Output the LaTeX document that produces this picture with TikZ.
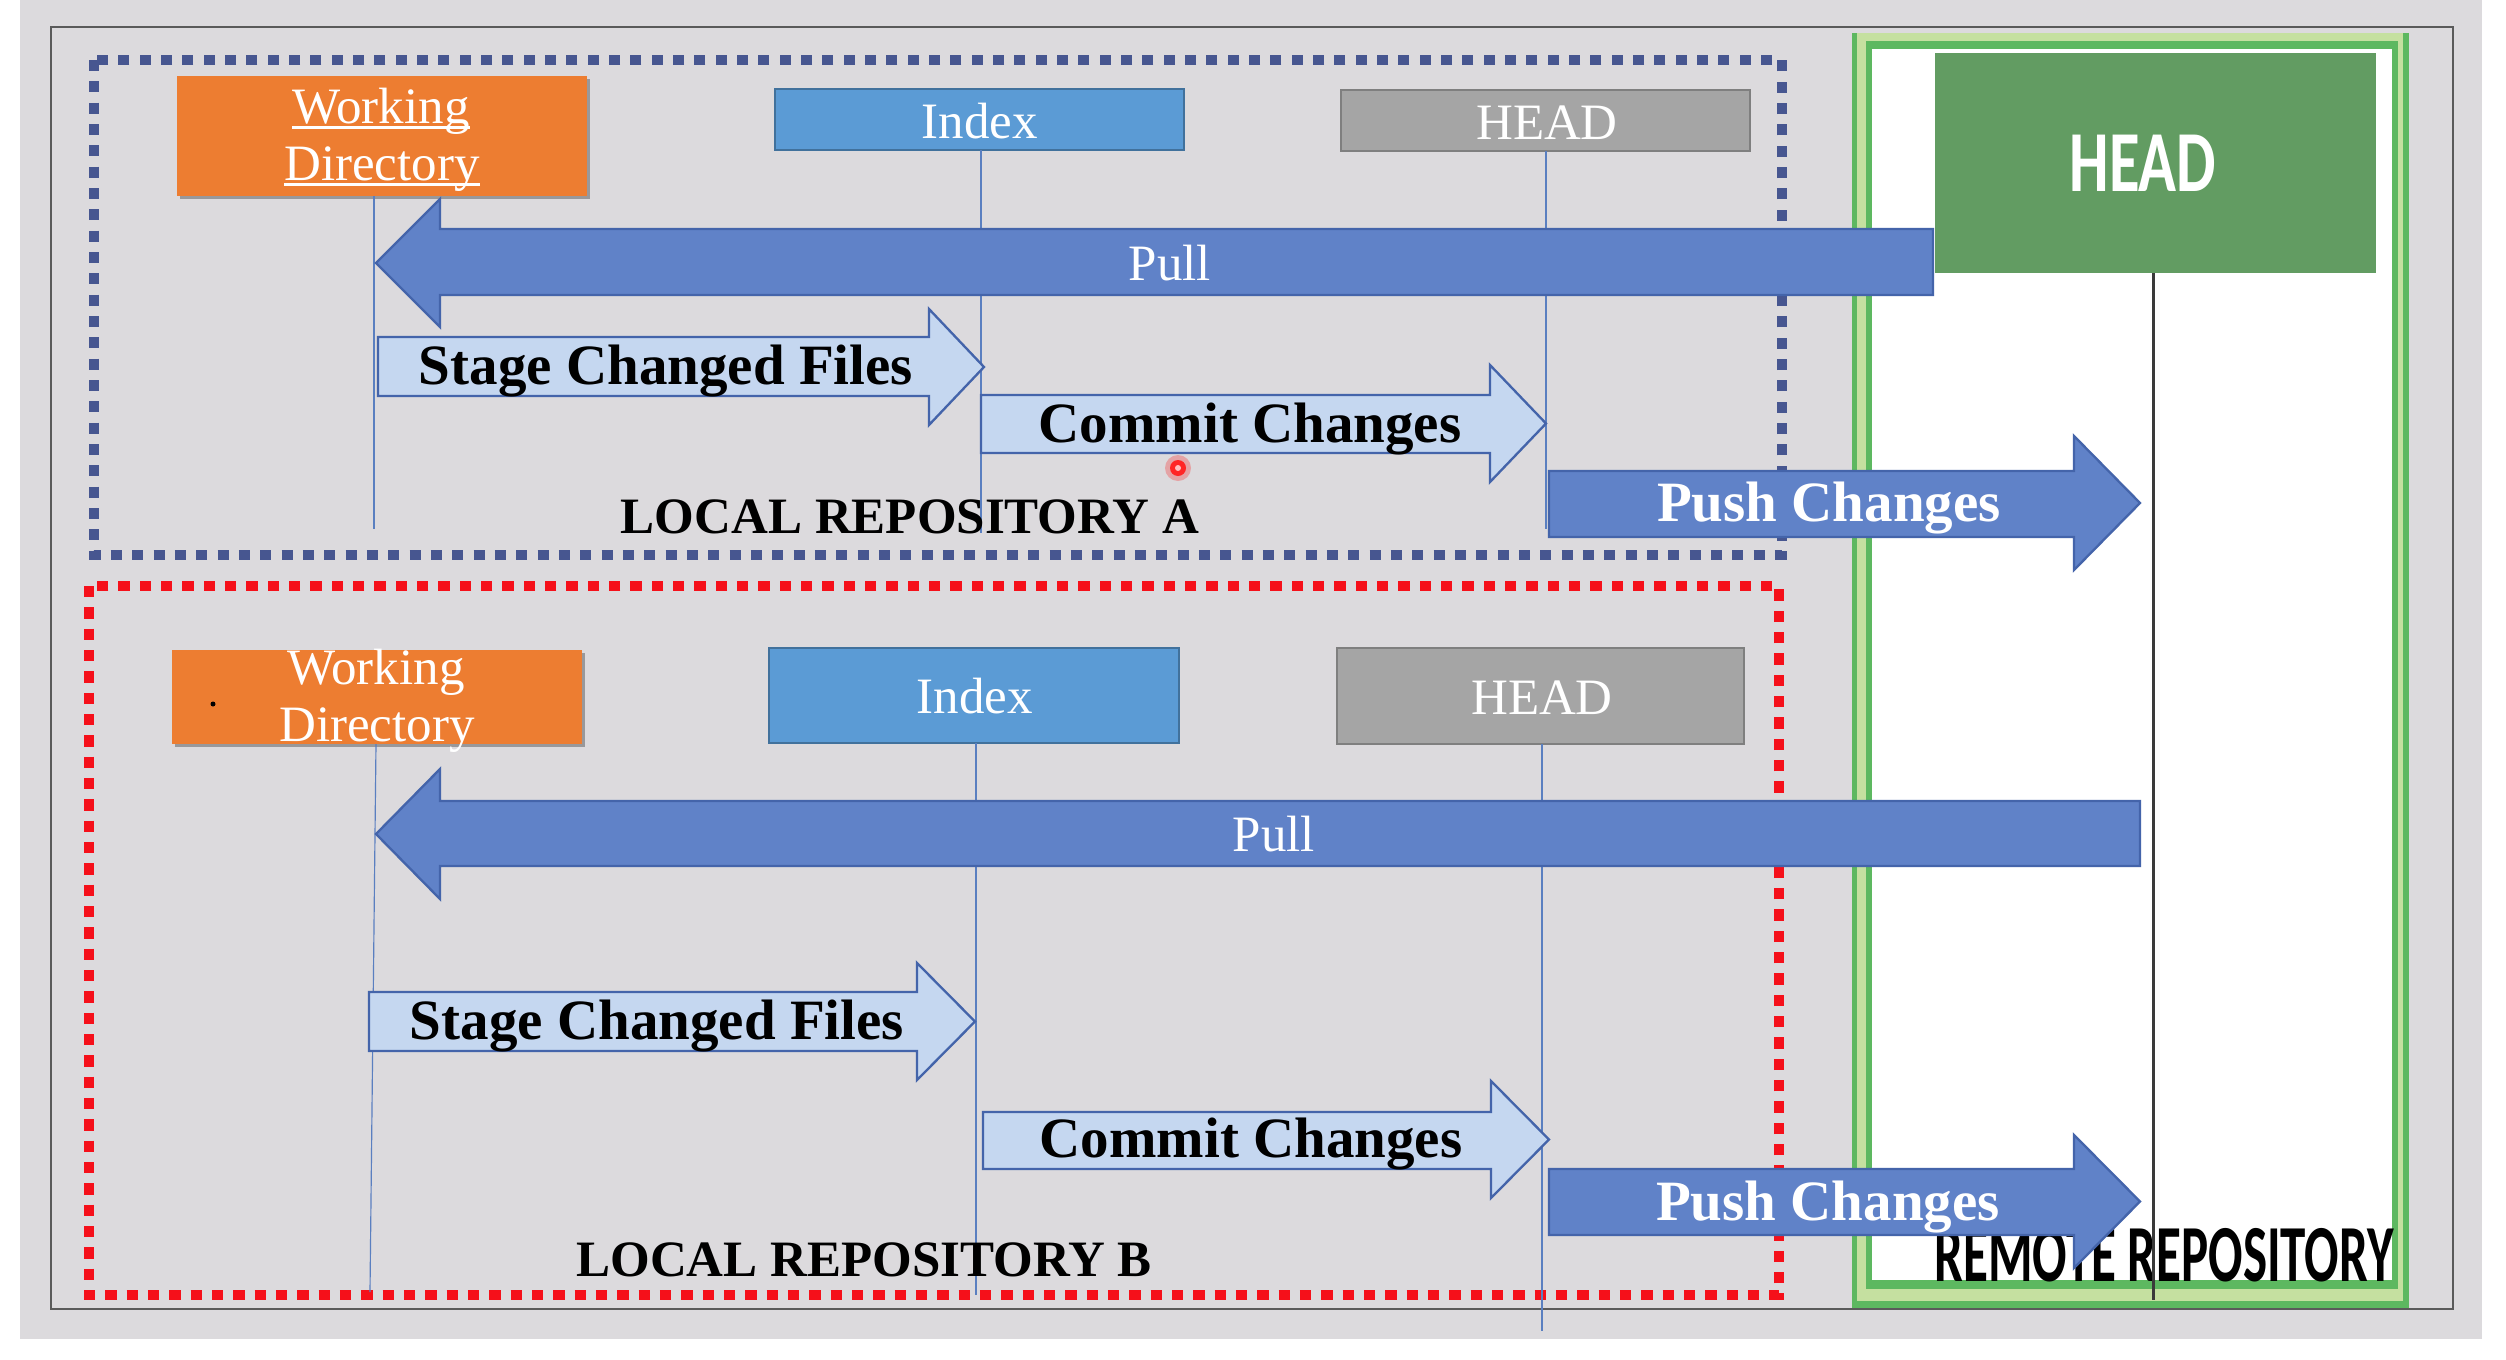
\documentclass[tikz,border=0pt]{standalone}
\usepackage{fontspec}
\setmainfont{Liberation Serif}
\newfontfamily\calibfont{Carlito}
\usetikzlibrary{shadows}
\definecolor{bggray}{HTML}{DCDADD}
\definecolor{framegray}{HTML}{5A5A5A}
\definecolor{wdorange}{HTML}{ED7D31}
\definecolor{ixblue}{HTML}{5B9BD5}
\definecolor{ixborder}{HTML}{41719C}
\definecolor{hdgray}{HTML}{A5A5A5}
\definecolor{hdborder}{HTML}{7F7F7F}
\definecolor{darkfill}{HTML}{6082C8}
\definecolor{arrborder}{HTML}{4464AA}
\definecolor{lightfill}{HTML}{C5D7F0}
\definecolor{lineblue}{HTML}{5A7FC0}
\definecolor{dotblue}{HTML}{475690}
\definecolor{dotred}{HTML}{F5101A}
\definecolor{grnband}{HTML}{5DB860}
\definecolor{grnlight}{HTML}{C5E0A0}
\definecolor{grnhead}{HTML}{629C62}
\definecolor{remline}{HTML}{3A3A3A}
\newcommand\blockarr[8]{\path[#1] (#2,#5) -- (#3,#5) -- (#3,#7) -- (#4,{(#7+#8)/2}) -- (#3,#8) -- (#3,#6) -- (#2,#6) -- cycle;}
\newcommand\myul[1]{\setbox0\hbox{#1}\rlap{\rule[-0.12em]{\wd0}{0.055em}}\box0}
\begin{document}
\begin{tikzpicture}[x=0.3pt,y=-0.3pt,
  reg/.style={font=\fontsize{15.3}{18}\selectfont, inner sep=0pt, anchor=base, text=white},
  bld/.style={font=\bfseries\fontsize{17.1}{20}\selectfont, inner sep=0pt, anchor=base},
  loc/.style={font=\bfseries\fontsize{15.3}{18}\selectfont, inner sep=0pt, anchor=base},
  wdbox/.style={fill=wdorange, inner sep=0pt, draw=none,
    drop shadow={shadow xshift=0.8pt, shadow yshift=-0.9pt, opacity=0.3, fill=black}},
  ixbox/.style={fill=ixblue, draw=ixborder, line width=0.6pt, inner sep=0pt},
  hdbox/.style={fill=hdgray, draw=hdborder, line width=0.6pt, inner sep=0pt},
  vline/.style={draw=lineblue, line width=0.35pt},
  darkarr/.style={fill=darkfill, draw=arrborder, line width=0.7pt},
  lightarr/.style={fill=lightfill, draw=arrborder, line width=0.7pt},
  dotA/.style={draw=dotblue, line width=3pt, dash pattern=on 3.3pt off 3.1pt},
  dotB/.style={draw=dotred, line width=3pt, dash pattern=on 3.4pt off 3.0pt}]
% background and frame
\fill[white] (0,0) rectangle (2506,1360);
\useasboundingbox (0,0) rectangle (2506,1360);
\fill[bggray] (20,0) rectangle (2482,1339);
\draw[framegray, line width=0.6pt] (51,27) rectangle (2453,1309);
% remote repository frame
\fill[grnband] (1852,33) rectangle (2409,1308);
\fill[grnlight] (1857,33) rectangle (2403,1301);
\fill[grnband] (1866,41) rectangle (2398,1289);
\fill[white] (1872,49) rectangle (2392,1280);
\node[fill=grnhead, inner sep=0pt, minimum width=132.3pt, minimum height=66pt] (rhead) at (2155.5,163) {};
\node[font=\calibfont\bfseries\fontsize{26.1}{30}\selectfont, text=white, inner sep=0pt, anchor=base] (rheadt) at (2143,191) {\scalebox{0.72}[1]{HEAD}};
\node[font=\calibfont\bfseries\fontsize{24.3}{28}\selectfont, text=black, inner sep=0pt, anchor=base] (remt) at (2164,1281) {\scalebox{0.63}[1]{REMOTE REPOSITORY}};
\coordinate (rlTop) at (2153,273);
\coordinate (rlBot) at (2153,1300);
\draw[remline, line width=0.9pt] (rlTop) -- (rlBot);
% dotted local repository frames
\draw[dotA] (94,60) rectangle (1782,555);
\draw[dotB] (89,586) rectangle (1779,1295);
% boxes of repository A
\node[wdbox, minimum width=123pt, minimum height=36pt] (wdA) at (382,136) {};
\node[ixbox, minimum width=122.7pt, minimum height=18.3pt] (ixA) at (979.5,119.5) {};
\node[hdbox, minimum width=122.7pt, minimum height=18.3pt] (hdA) at (1545.5,120.5) {};
% boxes of repository B
\node[wdbox, minimum width=123pt, minimum height=28.2pt] (wdB) at (377,697) {};
\node[ixbox, minimum width=123pt, minimum height=28.5pt] (ixB) at (974,695.5) {};
\node[hdbox, minimum width=122.1pt, minimum height=28.8pt] (hdB) at (1540.5,696) {};
\fill[black] (213,704) circle (2.5);
% vertical lines
\coordinate (vA1t) at (374,196); \coordinate (vA1b) at (374,529);
\coordinate (vA2t) at (981,150); \coordinate (vA2b) at (981,533);
\coordinate (vA3t) at (1546,151); \coordinate (vA3b) at (1546,529);
\coordinate (vB1t) at (376,744); \coordinate (vB1b) at (370,1292);
\coordinate (vB2t) at (976,743); \coordinate (vB2b) at (976,1295);
\coordinate (vB3t) at (1542,744); \coordinate (vB3b) at (1542,1331);
\draw[vline] (vA1t) -- (vA1b);
\draw[vline] (vA2t) -- (vA2b);
\draw[vline] (vA3t) -- (vA3b);
\draw[vline] (vB1t) -- (vB1b);
\draw[vline] (vB2t) -- (vB2b);
\draw[vline] (vB3t) -- (vB3b);
% block arrows
\blockarr{darkarr}{1933}{440}{376}{229}{295}{199}{327}
\blockarr{lightarr}{378}{929}{984}{337}{396}{309}{425}
\blockarr{lightarr}{981}{1490}{1546}{395}{453}{365}{482}
\blockarr{darkarr}{1549}{2074}{2140}{471}{537}{436}{570}
\blockarr{darkarr}{2140}{440}{376}{801}{866}{769}{899}
\blockarr{lightarr}{369}{917}{975}{992}{1051}{963}{1080}
\blockarr{lightarr}{983}{1491}{1549}{1112}{1169}{1081}{1198}
\blockarr{darkarr}{1549}{2074}{2140}{1169}{1235}{1135}{1268}
% pointer dot
\fill[red, opacity=0.25] (1178,468) circle (13);
\fill[red!85!white] (1178,468) circle (8);
\fill[red!25!white] (1178,468) circle (3);
% texts of repository A
\node[reg] (wdAt1) at (381,123) {\myul{Working}};
\node[reg] (wdAt2) at (382,180) {\myul{Directory}};
\node[reg] (ixAt) at (980,138) {Index};
\node[reg] (hdAt) at (1547,139) {HEAD};
\node[reg] (pullAt) at (1170,280) {Pull};
\node[bld] (stageAt) at (666,384) {Stage Changed Files};
\node[bld] (commitAt) at (1250,442) {Commit Changes};
\node[bld, text=white] (pushAt) at (1829,521) {Push Changes};
\node[loc] (locA) at (910,533) {LOCAL REPOSITORY A};
% texts of repository B
\node[reg] (wdBt1) at (376,684) {Working};
\node[reg] (wdBt2) at (377,741) {Directory};
\node[reg] (ixBt) at (975,713) {Index};
\node[reg] (hdBt) at (1542,714) {HEAD};
\node[reg] (pullBt) at (1274,851) {Pull};
\node[bld] (stageBt) at (657,1039) {Stage Changed Files};
\node[bld] (commitBt) at (1251,1157) {Commit Changes};
\node[bld, text=white] (pushBt) at (1828,1220) {Push Changes};
\node[loc] (locB) at (864,1276) {LOCAL REPOSITORY B};
\end{tikzpicture}
\end{document}
